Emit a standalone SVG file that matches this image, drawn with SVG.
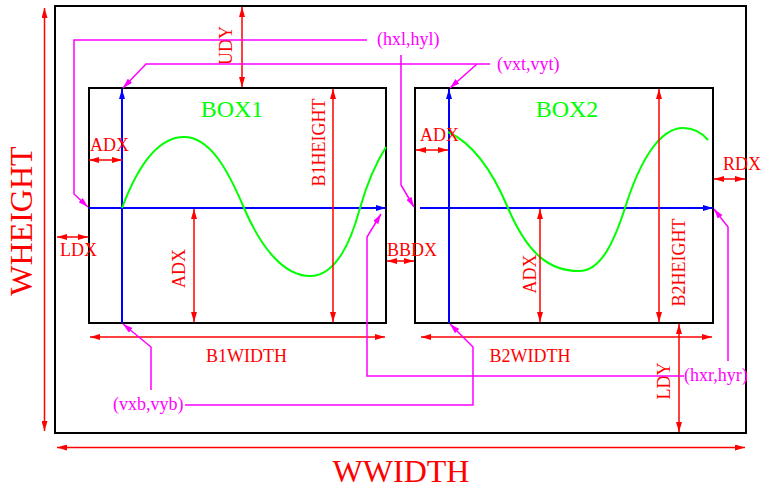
<svg xmlns="http://www.w3.org/2000/svg" width="764" height="489" viewBox="0 0 764 489">
<style>
.box{fill:none;stroke:#000;stroke-width:2}
.dim{stroke:#f00;stroke-width:1.5;fill:none;marker-start:url(#ar);marker-end:url(#ar)}
.ax{stroke:#00f;stroke-width:2;fill:none;marker-end:url(#ab)}
.crv{stroke:#0f0;stroke-width:2;fill:none}
.mg{stroke:#f0f;stroke-width:1.5;fill:none;marker-end:url(#am)}
text{font-family:"Liberation Serif","Times New Roman",serif}
.t{fill:#f00;font-size:18px}
.tb{fill:#f00;font-size:32px}
.tg{fill:#0f0;font-size:24px}
.tm{fill:#f0f;font-size:18px}
</style>
<defs>
<marker id="ar" viewBox="0 0 10 6" refX="10" refY="3" markerWidth="10" markerHeight="6" orient="auto-start-reverse" markerUnits="userSpaceOnUse"><path d="M0,0 L10,3 L0,6 z" fill="#f00"/></marker>
<marker id="ab" viewBox="0 0 10 6" refX="10" refY="3" markerWidth="10" markerHeight="6" orient="auto" markerUnits="userSpaceOnUse"><path d="M0,0 L10,3 L0,6 z" fill="#00f"/></marker>
<marker id="am" viewBox="0 0 10 6" refX="10" refY="3" markerWidth="10" markerHeight="6" orient="auto" markerUnits="userSpaceOnUse"><path d="M0,0 L10,3 L0,6 z" fill="#f0f"/></marker>
</defs>

<g id="window">
<rect class="box" x="55" y="6" width="691" height="427"/>
</g>

<g id="box1">
<rect class="box" x="89" y="88" width="297" height="235"/>
<path class="ax" d="M122,323 V89"/>
<path class="ax" d="M89,208 H386"/>
<path class="crv" d="M122,208 C140,160 160,137 184,137 C210,137 228,170 244,208 C262,250 285,276 310,276 C335,276 350,245 360,208 C368,180 376,163 386,147"/>
<text class="tg" x="232" y="117" text-anchor="middle">BOX1</text>
</g>

<g id="box2">
<rect class="box" x="415" y="88" width="298" height="235"/>
<path class="ax" d="M449,323 V89"/>
<path class="ax" d="M420,208 H713"/>
<path class="crv" d="M448,132 C470,142 490,165 508,208 C528,255 550,271 579,271 C600,271 613,245 625,208 C640,160 660,128 683,128 C695,128 702,133 708,140"/>
<text class="tg" x="567" y="117" text-anchor="middle">BOX2</text>
</g>

<g id="dimensions">
<path class="dim" d="M44.5,8 V431"/>
<path class="dim" d="M57,447.5 H745"/>
<path class="dim" d="M242,7 V87"/>
<path class="dim" d="M89,160 H122"/>
<path class="dim" d="M194,209 V322"/>
<path class="dim" d="M333,89 V322"/>
<path class="dim" d="M57,237 H88"/>
<path class="dim" d="M387,261 H414"/>
<path class="dim" d="M90,337 H385"/>
<path class="dim" d="M416,150 H448"/>
<path class="dim" d="M540,209 V322"/>
<path class="dim" d="M659,89 V322"/>
<path class="dim" d="M714,179 H745"/>
<path class="dim" d="M421,337 H712"/>
<path class="dim" d="M679,324 V432"/>
</g>

<g id="labels">
<text class="tb" transform="translate(32,221) rotate(-90)" text-anchor="middle">WHEIGHT</text>
<text class="tb" x="401" y="482" text-anchor="middle">WWIDTH</text>
<text class="t" transform="translate(232,45.5) rotate(-90)" text-anchor="middle">UDY</text>
<text class="t" x="90" y="151">ADX</text>
<text class="t" transform="translate(185,268.5) rotate(-90)" text-anchor="middle">ADX</text>
<text class="t" transform="translate(325,142.5) rotate(-90)" text-anchor="middle">B1HEIGHT</text>
<text class="t" x="60" y="256">LDX</text>
<text class="t" x="387" y="256">BBDX</text>
<text class="t" x="246.5" y="362" text-anchor="middle">B1WIDTH</text>
<text class="t" x="420" y="141">ADX</text>
<text class="t" transform="translate(536,274) rotate(-90)" text-anchor="middle">ADX</text>
<text class="t" transform="translate(685,262.5) rotate(-90)" text-anchor="middle">B2HEIGHT</text>
<text class="t" x="742" y="170" text-anchor="middle">RDX</text>
<text class="t" x="530" y="362" text-anchor="middle">B2WIDTH</text>
<text class="t" transform="translate(670,381) rotate(-90)" text-anchor="middle">LDY</text>
</g>

<g id="connectors">
<path class="mg" d="M367,40 H74 V194 L88,207"/>
<path class="mg" d="M401,55 V185 L414,207"/>
<path class="mg" d="M490,64 H146 L123,88"/>
<path class="mg" d="M477,64 L450,88"/>
<path class="mg" d="M151,390 V347 L123,324"/>
<path class="mg" d="M185,405 H473 V347 L450,324"/>
<path class="mg" d="M684,376 H367 V237 L381,214"/>
<path class="mg" d="M728,361 V227 L714,209"/>
</g>

<g id="points">
<text class="tm" x="377" y="45">(hxl,hyl)</text>
<text class="tm" x="497" y="70">(vxt,vyt)</text>
<text class="tm" x="113" y="410">(vxb,vyb)</text>
<text class="tm" x="684" y="381">(hxr,hyr)</text>
</g>
</svg>
